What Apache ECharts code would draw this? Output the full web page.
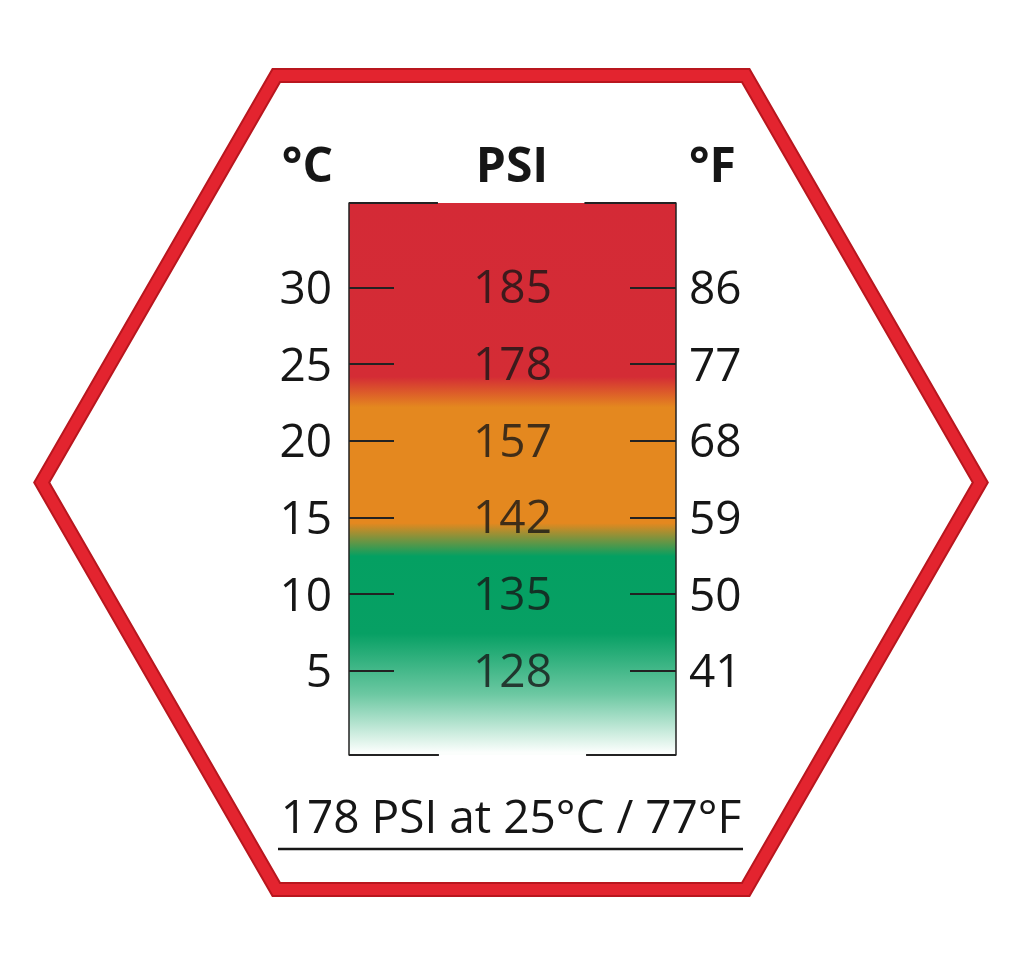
<!DOCTYPE html>
<html>
<head>
<meta charset="utf-8">
<script src="https://cdn.jsdelivr.net/npm/echarts@6/dist/echarts.min.js"></script>
<style>html,body{margin:0;padding:0;background:#fff}#c{width:1024px;height:966px}</style>
</head>
<body>
<div id="c"></div>
<script>
// Data
const celsius = [5, 10, 15, 20, 25, 30];
const fahrenheit = [41, 50, 59, 68, 77, 86];
const psi = [128, 135, 142, 157, 178, 185];
const headers = ['°C', 'PSI', '°F'];
const caption = '178 PSI at 25°C / 77°F';
const cMin = -0.5, cMax = 35.5;

const FONT = '"Open Sans", "Noto Sans", sans-serif';
const chart = echarts.init(document.getElementById('c'), null, {renderer: 'canvas'});

const hex = [[276.3, 75.5], [745.7, 75.5], [980.3, 482.5], [745.7, 889.5], [276.3, 889.5], [41.7, 482.5]];

const colGradient = new echarts.graphic.LinearGradient(0, 0, 0, 1, [
  {offset: 0, color: '#d42a36'},
  {offset: 0.315, color: '#d42c35'},
  {offset: 0.37, color: '#e4881f'},
  {offset: 0.58, color: '#e4881f'},
  {offset: 0.64, color: '#04a062'},
  {offset: 0.78, color: '#07a064'},
  {offset: 0.89, color: '#6cc8a2'},
  {offset: 0.995, color: '#fbfefc'}
]);

const tickLabelRich = {a: {color: '#161616', fontSize: 46, fontFamily: FONT, padding: [7, 0, 0, 0]}};

const option = {
  backgroundColor: '#ffffff',
  animation: false,
  grid: {left: 349, right: 348, top: 203, bottom: 211},
  xAxis: {type: 'value', min: 0, max: 1, show: false},
  yAxis: [
    {
      type: 'value', min: cMin, max: cMax, position: 'left', z: 5,
      splitLine: {show: false},
      axisLine: {show: true, lineStyle: {color: '#222', width: 1.5}},
      axisTick: {show: true, inside: true, length: 45, customValues: celsius, lineStyle: {color: '#222', width: 2}},
      axisLabel: {show: true, customValues: celsius, margin: 17, formatter: v => '{a|' + v + '}', rich: tickLabelRich}
    },
    {
      type: 'value', min: cMin * 9 / 5 + 32, max: cMax * 9 / 5 + 32, position: 'right', z: 5,
      splitLine: {show: false},
      axisLine: {show: true, lineStyle: {color: '#222', width: 1.5}},
      axisTick: {show: true, inside: true, length: 46, customValues: fahrenheit, lineStyle: {color: '#222', width: 2}},
      axisLabel: {show: true, customValues: fahrenheit, margin: 13, formatter: v => '{a|' + v + '}', rich: tickLabelRich}
    }
  ],
  series: [{
    type: 'scatter',
    yAxisIndex: 0,
    symbolSize: 1,
    itemStyle: {color: 'rgba(0,0,0,0)'},
    silent: true,
    data: celsius.map((c, i) => [0.5, c, psi[i]]),
    label: {
      show: true, position: 'inside', offset: [0, 3], color: '#161616', fontSize: 46, fontFamily: FONT,
      formatter: p => String(p.data[2])
    },
    markArea: {
      silent: true,
      itemStyle: {color: colGradient},
      data: [[{coord: [0, cMax]}, {coord: [1, cMin]}]]
    },
    markLine: {
      silent: true, symbol: ['none', 'none'], label: {show: false},
      lineStyle: {color: '#222', width: 2, type: 'solid'},
      data: [
        [{coord: [0, cMax]}, {coord: [0.272, cMax]}],
        [{coord: [0.72, cMax]}, {coord: [1, cMax]}],
        [{coord: [0, cMin]}, {coord: [0.275, cMin]}],
        [{coord: [0.725, cMin]}, {coord: [1, cMin]}]
      ]
    }
  }],
  graphic: [
    {type: 'polygon', z: -10, shape: {points: hex}, style: {fill: '#fff', stroke: '#b9161e', lineWidth: 15, lineJoin: 'miter'}},
    {type: 'polygon', z: -9, shape: {points: hex}, style: {fill: 'none', stroke: '#e3242f', lineWidth: 11, lineJoin: 'miter'}},
    {type: 'text', x: 333, y: 168, style: {text: headers[0], fill: '#161616', font: 'bold 48px ' + FONT, textAlign: 'right', textVerticalAlign: 'middle'}},
    {type: 'text', x: 512, y: 168, style: {text: headers[1], fill: '#161616', font: 'bold 48px ' + FONT, textAlign: 'center', textVerticalAlign: 'middle'}},
    {type: 'text', x: 689, y: 168, style: {text: headers[2], fill: '#161616', font: 'bold 48px ' + FONT, textAlign: 'left', textVerticalAlign: 'middle'}},
    {type: 'text', x: 511, y: 820, style: {text: caption, fill: '#161616', font: '46px ' + FONT, textAlign: 'center', textVerticalAlign: 'middle'}},
    {type: 'line', shape: {x1: 278, y1: 849, x2: 743, y2: 849}, style: {stroke: '#161616', lineWidth: 2.5}}
  ]
};
chart.setOption(option);
</script>
</body>
</html>
